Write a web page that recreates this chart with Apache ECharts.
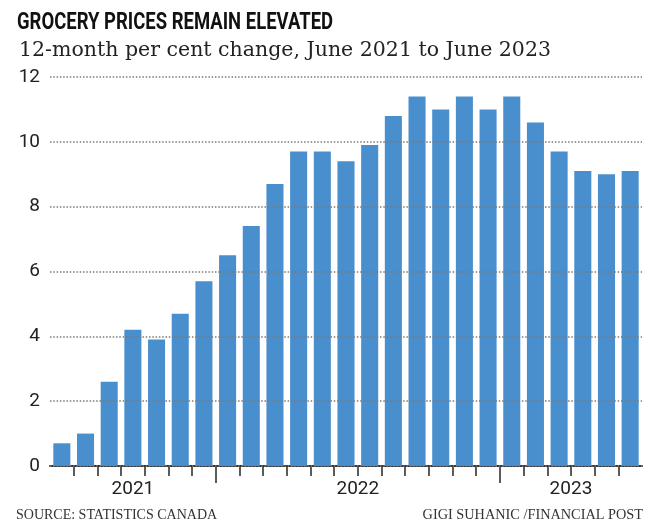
<!DOCTYPE html>
<html>
<head>
<meta charset="utf-8">
<script src="https://cdn.jsdelivr.net/npm/echarts@6/dist/echarts.min.js"></script>
<style>
html,body{margin:0;padding:0;background:#fff;}
#chart{width:660px;height:531px;}
</style>
</head>
<body>
<div id="chart"></div>
<script>
var months = ['Jun 2021','Jul 2021','Aug 2021','Sep 2021','Oct 2021','Nov 2021','Dec 2021',
  'Jan 2022','Feb 2022','Mar 2022','Apr 2022','May 2022','Jun 2022','Jul 2022','Aug 2022','Sep 2022','Oct 2022','Nov 2022','Dec 2022',
  'Jan 2023','Feb 2023','Mar 2023','Apr 2023','May 2023','Jun 2023'];
var values = [0.7, 1.0, 2.6, 4.2, 3.9, 4.7, 5.7, 6.5, 7.4, 8.7, 9.7, 9.7, 9.4, 9.9, 10.8, 11.4, 11.0, 11.4, 11.0, 11.4, 10.6, 9.7, 9.1, 9.0, 9.1];
var yTicks = [0, 2, 4, 6, 8, 10, 12];
var titleText = 'GROCERY PRICES REMAIN ELEVATED';
var subtitleText = '12-month per cent change, June 2021 to June 2023';
var sourceText = 'SOURCE: STATISTICS CANADA';
var creditText = 'GIGI SUHANIC /FINANCIAL POST';

// derive year spans from month categories
var years = [];
var spans = {};
months.forEach(function (m, i) {
  var y = m.split(' ')[1];
  if (!spans[y]) { spans[y] = {start: i, end: i}; years.push(y); }
  spans[y].end = i;
});
var yearMid = {};
var yearMids = [];
var yearBounds = [];
years.forEach(function (y, k) {
  var mid = (spans[y].start + spans[y].end + 1) / 2;
  yearMid[mid] = y;
  yearMids.push(mid);
  if (k > 0) yearBounds.push(spans[y].start);
});
var monthBounds = [];
for (var i = 1; i < months.length; i++) {
  if (yearBounds.indexOf(i) < 0) monthBounds.push(i);
}

var sans = '"Roboto", sans-serif';
var serif = '"DejaVu Serif", serif';

var chart = echarts.init(document.getElementById('chart'));
var extraAxis = function (ticks, len, labels) {
  return {
    type: 'value', gridIndex: 0, position: 'bottom',
    min: 0, max: months.length,
    axisLine: {show: false},
    splitLine: {show: false},
    axisTick: {show: true, customValues: ticks, length: len, lineStyle: {color: '#333', width: 1.6}},
    axisLabel: labels ? {
      show: true, customValues: yearMids, margin: 14,
      fontFamily: sans, fontSize: 19, color: '#222',
      formatter: function (v) { return yearMid[v] || ''; }
    } : {show: false}
  };
};
chart.setOption({
  animation: false,
  backgroundColor: '#fff',
  graphic: [
    {type: 'text', left: 17, top: 11, scaleX: 0.77,
     style: {text: titleText, font: 'bold 24px "Roboto", sans-serif', fill: '#111'}}
  ],
  title: [
    {text: subtitleText, left: 14, top: 35,
     textStyle: {fontFamily: serif, fontWeight: 'normal', fontSize: 20.5, color: '#222'}},
    {text: sourceText, left: 11, top: 503,
     textStyle: {fontFamily: '"Liberation Serif", serif', fontWeight: 'normal', fontSize: 14, color: '#333'}},
    {text: creditText, right: 12, top: 503,
     textStyle: {fontFamily: '"Liberation Serif", serif', fontWeight: 'normal', fontSize: 14.3, color: '#333'}}
  ],
  grid: {left: 50, right: 18, top: 77, bottom: 65, containLabel: false},
  xAxis: [
    {type: 'category', data: months, boundaryGap: true,
     axisLine: {show: true, lineStyle: {color: '#333', width: 2}},
     axisTick: {show: false}, axisLabel: {show: false}, splitLine: {show: false}},
    extraAxis(monthBounds, 10, false),
    extraAxis(yearBounds, 17, true)
  ],
  yAxis: {
    type: 'value', min: yTicks[0], max: yTicks[yTicks.length - 1], interval: 2, z: 10,
    axisLine: {show: false}, axisTick: {show: false},
    axisLabel: {margin: 10, fontFamily: sans, fontSize: 19, color: '#222'},
    splitLine: {show: true, lineStyle: {color: '#7a7a7a', width: 1.5, type: [1.5, 1.8]}}
  },
  series: [{
    type: 'bar', data: values, xAxisIndex: 0, yAxisIndex: 0,
    barCategoryGap: '28%',
    itemStyle: {color: '#4a8fcd'}
  }]
});
</script>
</body>
</html>
